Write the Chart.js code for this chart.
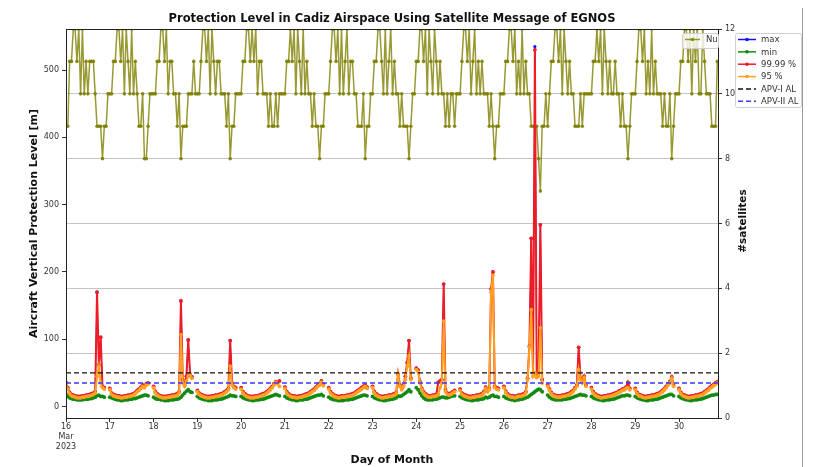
<!DOCTYPE html>
<html>
<head>
<meta charset="utf-8">
<script src="https://cdn.jsdelivr.net/npm/chart.js@4.4.1/dist/chart.umd.min.js"></script>
<style>
  html, body { margin: 0; padding: 0; background: #fff; }
  #wrap { width: 827px; height: 467px; }
</style>
</head>
<body>
<div id="wrap"><canvas id="chartCanvas" width="827" height="467"></canvas></div>
<script>
// Days of March 2023 on the x axis, one row of hourly values per day
var days = [16, 17, 18, 19, 20, 21, 22, 23, 24, 25, 26, 27, 28, 29, 30];
var hours = [0, 1, 2, 3, 4, 5, 6, 7, 8, 9, 10, 11, 12, 13, 14, 15, 16, 17, 18, 19, 20, 21, 22, 23];
var dayTickLabels = [['16', 'Mar', '2023'], '17', '18', '19', '20', '21', '22', '23', '24', '25', '26', '27', '28', '29', '30'];
var plTicks = [0, 100, 200, 300, 400, 500];
var satTicks = [0, 2, 4, 6, 8, 10, 12];
var xEnd = 30.89;

// alert limits [m]
var apv1AL = 50;
var apv2AL = 35;

// number of satellites in view
var satellites = [
    [9, 9, 11, 11, 12, 12, 11, 12, 10, 12, 10, 11, 10, 11, 11, 11, 10, 9, 9, 9, 8, 9, 9, 10],
    [10, 10, 11, 11, 12, 12, 11, 12, 10, 12, 11, 10, 12, 10, 11, 10, 9, 9, 10, 8, 8, 9, 10, 10],
    [10, 10, 11, 11, 12, 12, 11, 12, 10, 11, 11, 10, 10, 9, 10, 8, 9, 9, 9, 10, 10, 10, 11, 10],
    [10, 10, 11, 12, 12, 11, 12, 10, 12, 11, 10, 11, 11, 10, 10, 10, 9, 10, 8, 9, 9, 10, 10, 10],
    [10, 11, 11, 12, 12, 11, 12, 11, 12, 10, 11, 11, 10, 10, 10, 9, 10, 9, 9, 10, 9, 10, 10, 10],
    [10, 11, 11, 12, 11, 12, 10, 12, 11, 10, 12, 10, 11, 10, 10, 9, 10, 9, 9, 8, 9, 9, 10, 10],
    [10, 11, 12, 12, 11, 12, 10, 12, 10, 11, 12, 10, 11, 11, 10, 10, 9, 9, 9, 10, 8, 9, 9, 10],
    [10, 11, 11, 12, 12, 11, 10, 12, 10, 11, 12, 10, 11, 10, 10, 9, 10, 9, 9, 9, 8, 9, 10, 10],
    [11, 11, 12, 12, 11, 12, 10, 12, 11, 10, 12, 11, 10, 11, 10, 10, 9, 10, 9, 10, 10, 9, 10, 10],
    [10, 11, 12, 12, 11, 12, 10, 11, 12, 10, 11, 10, 11, 10, 10, 10, 9, 10, 9, 8, 9, 9, 10, 10],
    [10, 11, 11, 12, 12, 11, 12, 10, 11, 10, 12, 10, 11, 10, 10, 9, 9, 9, 9, 8, 7, 9, 9, 10],
    [9, 10, 11, 11, 12, 12, 11, 12, 10, 12, 11, 10, 11, 10, 10, 9, 9, 9, 10, 9, 10, 10, 10, 10],
    [10, 11, 11, 12, 11, 12, 10, 12, 11, 10, 11, 10, 10, 11, 10, 10, 9, 10, 9, 9, 8, 9, 10, 10],
    [10, 11, 12, 12, 11, 12, 10, 11, 10, 12, 10, 11, 10, 10, 10, 9, 10, 9, 9, 10, 8, 9, 10, 10],
    [10, 11, 11, 12, 12, 11, 12, 10, 12, 11, 12, 10, 10, 12, 11, 10, 10, 10, 9, 9, 9, 11]
];

// protection levels [m], hours 0..21 of each day (no data late evening)
var pl95 = [
    [33, 26, 19, 16, 15, 14, 13, 13, 13, 14, 14, 15, 15, 16, 17, 18, 20, 45, 60, 35, 28, 26],
    [25, 18, 16, 15, 14, 14, 13, 13, 14, 14, 15, 15, 16, 17, 19, 22, 24, 27, 30, 28, 32, 33],
    [28, 20, 17, 15, 14, 13, 13, 13, 14, 14, 15, 15, 16, 17, 20, 107, 35, 30, 38, 45, 47, 42],
    [22, 18, 16, 15, 14, 13, 13, 13, 14, 14, 15, 15, 16, 17, 18, 20, 22, 25, 60, 32, 28, 26],
    [26, 20, 17, 15, 14, 13, 13, 13, 14, 14, 15, 16, 17, 18, 20, 22, 25, 28, 32, 36, 34, 30],
    [27, 20, 17, 15, 14, 14, 13, 13, 14, 14, 15, 16, 17, 18, 20, 22, 24, 27, 30, 32, 36, 31],
    [26, 20, 17, 15, 14, 13, 13, 14, 14, 14, 15, 15, 16, 17, 18, 20, 22, 24, 26, 28, 30, 27],
    [28, 20, 17, 15, 14, 13, 13, 14, 14, 15, 15, 16, 17, 19, 47, 30, 25, 30, 40, 60, 75, 40],
    [55, 52, 35, 25, 20, 17, 15, 14, 14, 15, 15, 16, 18, 28, 35, 127, 22, 18, 17, 18, 20, 22],
    [24, 18, 16, 15, 14, 13, 13, 14, 14, 15, 15, 16, 17, 20, 27, 22, 25, 170, 195, 28, 26, 25],
    [28, 21, 17, 15, 14, 14, 13, 14, 15, 15, 16, 17, 20, 40, 88, 144, 45, 50, 43, 45, 117, 35],
    [30, 24, 19, 16, 15, 14, 14, 14, 15, 15, 16, 17, 18, 20, 22, 26, 30, 55, 40, 35, 43, 30],
    [26, 20, 17, 15, 14, 13, 13, 14, 14, 15, 15, 16, 17, 18, 19, 21, 22, 24, 25, 27, 28, 25],
    [25, 19, 16, 15, 14, 13, 13, 14, 14, 15, 15, 16, 17, 18, 20, 22, 25, 28, 32, 35, 42, 30],
    [25, 19, 16, 15, 14, 13, 13, 14, 14, 15, 15, 16, 17, 18, 20, 22, 24, 27, 29, 31, 33, 35]
];

var pl9999 = [
    [36, 28, 21, 18, 17, 16, 15, 15, 15, 16, 16, 17, 17, 18, 19, 20, 22, 170, 62, 103, 30, 28],
    [27, 20, 18, 17, 16, 16, 15, 15, 16, 16, 17, 17, 18, 19, 21, 24, 26, 29, 32, 30, 34, 35],
    [30, 22, 19, 17, 16, 15, 15, 15, 16, 16, 17, 17, 18, 19, 22, 157, 40, 32, 45, 99, 48, 44],
    [24, 20, 18, 17, 16, 15, 15, 15, 16, 16, 17, 17, 18, 19, 20, 22, 24, 27, 98, 35, 30, 28],
    [28, 22, 19, 17, 16, 15, 15, 15, 16, 16, 17, 18, 19, 20, 22, 24, 27, 30, 34, 37, 36, 38],
    [29, 22, 19, 17, 16, 16, 15, 15, 16, 16, 17, 18, 19, 20, 22, 24, 26, 29, 32, 34, 38, 33],
    [28, 22, 19, 17, 16, 15, 15, 16, 16, 16, 17, 17, 18, 19, 20, 22, 24, 26, 28, 30, 32, 29],
    [30, 22, 19, 17, 16, 15, 15, 16, 16, 17, 17, 18, 19, 21, 48, 32, 27, 32, 45, 65, 98, 42],
    [57, 54, 37, 27, 22, 19, 17, 16, 16, 17, 17, 18, 36, 38, 40, 182, 25, 20, 19, 20, 22, 24],
    [26, 20, 18, 17, 16, 15, 15, 16, 16, 17, 17, 18, 19, 22, 29, 24, 27, 175, 200, 30, 28, 27],
    [30, 23, 19, 17, 16, 16, 15, 16, 17, 17, 18, 19, 22, 42, 90, 250, 50, 530, 48, 50, 270, 40],
    [32, 26, 21, 18, 17, 16, 16, 16, 17, 17, 18, 19, 20, 22, 24, 28, 32, 88, 42, 37, 45, 32],
    [28, 22, 19, 17, 16, 15, 15, 16, 16, 17, 17, 18, 19, 20, 21, 23, 24, 26, 27, 29, 36, 27],
    [27, 21, 18, 17, 16, 15, 15, 16, 16, 17, 17, 18, 19, 20, 22, 24, 27, 30, 34, 37, 44, 32],
    [27, 21, 18, 17, 16, 15, 15, 16, 16, 17, 17, 18, 19, 20, 22, 24, 26, 29, 31, 33, 35, 37]
];

var plMax = [
    [36, 28, 21, 18, 17, 16, 15, 15, 15, 16, 16, 17, 17, 18, 19, 20, 22, 170, 62, 103, 30, 28],
    [27, 20, 18, 17, 16, 16, 15, 15, 16, 16, 17, 17, 18, 19, 21, 24, 26, 29, 32, 30, 34, 35],
    [30, 22, 19, 17, 16, 15, 15, 15, 16, 16, 17, 17, 18, 19, 22, 157, 40, 32, 45, 99, 48, 44],
    [24, 20, 18, 17, 16, 15, 15, 15, 16, 16, 17, 17, 18, 19, 20, 22, 24, 27, 98, 35, 30, 28],
    [28, 22, 19, 17, 16, 15, 15, 15, 16, 16, 17, 18, 19, 20, 22, 24, 27, 30, 34, 37, 36, 38],
    [29, 22, 19, 17, 16, 16, 15, 15, 16, 16, 17, 18, 19, 20, 22, 24, 26, 29, 32, 34, 38, 33],
    [28, 22, 19, 17, 16, 15, 15, 16, 16, 16, 17, 17, 18, 19, 20, 22, 24, 26, 28, 30, 32, 29],
    [30, 22, 19, 17, 16, 15, 15, 16, 16, 17, 17, 18, 19, 21, 48, 32, 27, 32, 45, 65, 98, 42],
    [57, 54, 37, 27, 22, 19, 17, 16, 16, 17, 17, 18, 36, 38, 40, 182, 25, 20, 19, 20, 22, 24],
    [26, 20, 18, 17, 16, 15, 15, 16, 16, 17, 17, 18, 19, 22, 29, 24, 27, 175, 200, 30, 28, 27],
    [30, 23, 19, 17, 16, 16, 15, 16, 17, 17, 18, 19, 22, 42, 90, 250, 50, 535, 48, 50, 270, 40],
    [32, 26, 21, 18, 17, 16, 16, 16, 17, 17, 18, 19, 20, 22, 24, 28, 32, 88, 42, 37, 45, 32],
    [28, 22, 19, 17, 16, 15, 15, 16, 16, 17, 17, 18, 19, 20, 21, 23, 24, 26, 27, 29, 36, 27],
    [27, 21, 18, 17, 16, 15, 15, 16, 16, 17, 17, 18, 19, 20, 22, 24, 27, 30, 34, 37, 44, 32],
    [27, 21, 18, 17, 16, 15, 15, 16, 16, 17, 17, 18, 19, 20, 22, 24, 26, 29, 31, 33, 35, 37]
];

var plMin = [
    [18, 15, 13, 12, 11, 11, 10, 10, 10, 10, 11, 11, 11, 12, 12, 13, 14, 16, 17, 15, 15, 14],
    [14, 13, 12, 11, 10, 10, 9, 9, 10, 10, 10, 11, 11, 12, 12, 13, 14, 15, 16, 17, 17, 16],
    [14, 12, 11, 11, 10, 10, 9, 9, 9, 10, 10, 10, 11, 11, 12, 14, 17, 20, 23, 25, 22, 21],
    [15, 13, 12, 11, 10, 10, 9, 9, 9, 10, 10, 10, 11, 11, 12, 13, 14, 15, 17, 16, 16, 15],
    [15, 13, 12, 11, 10, 10, 9, 9, 10, 10, 10, 11, 11, 12, 13, 14, 15, 16, 17, 18, 17, 16],
    [15, 13, 12, 11, 10, 10, 9, 9, 10, 10, 10, 11, 11, 12, 13, 14, 15, 16, 17, 17, 18, 16],
    [14, 12, 11, 10, 10, 9, 9, 9, 9, 10, 10, 10, 11, 11, 12, 13, 14, 15, 16, 17, 17, 16],
    [15, 13, 12, 11, 10, 10, 9, 9, 10, 10, 11, 11, 12, 13, 16, 15, 16, 18, 20, 22, 25, 22],
    [28, 25, 20, 16, 13, 11, 10, 10, 10, 10, 11, 11, 12, 13, 14, 14, 13, 13, 14, 15, 16, 16],
    [15, 13, 12, 11, 10, 10, 9, 9, 10, 10, 10, 11, 11, 12, 14, 13, 14, 16, 17, 15, 15, 14],
    [15, 13, 12, 11, 10, 10, 9, 10, 10, 11, 11, 12, 13, 14, 16, 18, 20, 22, 24, 26, 25, 22],
    [17, 14, 12, 11, 10, 10, 10, 10, 10, 11, 11, 12, 12, 13, 14, 15, 16, 17, 18, 17, 17, 16],
    [15, 13, 12, 11, 10, 10, 9, 9, 10, 10, 10, 11, 11, 12, 13, 14, 15, 16, 16, 17, 17, 16],
    [15, 13, 12, 11, 10, 10, 9, 9, 10, 10, 10, 11, 11, 12, 13, 14, 15, 16, 17, 18, 18, 16],
    [15, 13, 12, 11, 10, 10, 9, 9, 10, 10, 10, 11, 11, 12, 13, 14, 15, 16, 17, 17, 18, 18]
];

var FONT = '"DejaVu Sans", sans-serif';
var chartTitle = 'Protection Level in Cadiz Airspace Using Satellite Message of EGNOS';

// turn day rows into {x, y} points; gap after each day when asked
function toPoints(rows, withGap) {
    var pts = [];
    rows.forEach(function (row, d) {
        row.forEach(function (v, h) {
            pts.push({x: days[d] + hours[h] / 24, y: v});
        });
        if (withGap) {
            pts.push({x: days[d] + hours[row.length] / 24, y: null});
        }
    });
    return pts;
}

function plDataset(label, rows, color, order, width, radius) {
    return {
        label: label,
        data: toPoints(rows, true),
        yAxisID: 'y',
        borderColor: color,
        backgroundColor: color,
        borderWidth: width,
        pointRadius: radius,
        pointBorderWidth: 0,
        spanGaps: false,
        order: order
    };
}

function alDataset(label, value, color) {
    return {
        label: label,
        data: [{x: days[0], y: value}, {x: xEnd, y: value}],
        yAxisID: 'y',
        borderColor: color,
        borderWidth: 1.3,
        borderDash: [5, 3],
        pointRadius: 0,
        order: 0
    };
}

// title, frame, right axis title, figure edge and both legends
var decorPlugin = {
    id: 'decor',
    afterDraw: function (chart) {
        var ctx = chart.ctx;
        var a = chart.chartArea;
        ctx.save();
        ctx.strokeStyle = '#222';
        ctx.lineWidth = 1;
        ctx.strokeRect(Math.round(a.left) + 0.5, Math.round(a.top) + 0.5, Math.round(a.right - a.left), Math.round(a.bottom - a.top));

        // figure edge on the right
        ctx.strokeStyle = '#9a9a9a';
        ctx.beginPath();
        ctx.moveTo(802.5, 8);
        ctx.lineTo(802.5, 467);
        ctx.stroke();

        ctx.fillStyle = '#111';
        ctx.textAlign = 'center';
        ctx.textBaseline = 'middle';
        ctx.font = 'bold 11.5px ' + FONT;
        ctx.fillText(chartTitle, (a.left + a.right) / 2, 19);

        // right axis title
        ctx.font = 'bold 10.5px ' + FONT;
        ctx.translate(743, 221);
        ctx.rotate(-Math.PI / 2);
        ctx.fillText('#satellites', 0, 0);
        ctx.restore();

        var sets = chart.data.datasets;
        drawLegend(ctx, 682, 33, 36, 15, sets.filter(function (s) { return s.label === 'Nu'; }), 685, 700, 706, 12);
        drawLegend(ctx, 735, 33, 66, 74, sets.filter(function (s) { return s.label !== 'Nu'; }), 738, 756, 761, 12.35);
    }
};

function drawLegend(ctx, bx, by, bw, bh, sets, x1, x2, tx, step) {
    ctx.save();
    ctx.fillStyle = 'rgba(255,255,255,0.8)';
    ctx.strokeStyle = '#d0d0d0';
    ctx.lineWidth = 1;
    ctx.beginPath();
    ctx.roundRect(bx + 0.5, by + 0.5, bw, bh, 2);
    ctx.fill();
    ctx.stroke();
    ctx.font = '8.5px ' + FONT;
    ctx.textBaseline = 'middle';
    ctx.textAlign = 'left';
    sets.forEach(function (s, i) {
        var y = by + 6.5 + i * step;
        ctx.strokeStyle = s.borderColor;
        ctx.lineWidth = 1.5;
        ctx.setLineDash(s.borderDash || []);
        ctx.beginPath();
        ctx.moveTo(x1, y);
        ctx.lineTo(x2, y);
        ctx.stroke();
        ctx.setLineDash([]);
        if (s.pointRadius > 0) {
            ctx.fillStyle = s.borderColor;
            ctx.beginPath();
            ctx.arc((x1 + x2) / 2, y, 1.8, 0, Math.PI * 2);
            ctx.fill();
        }
        ctx.fillStyle = '#333';
        ctx.fillText(s.label, tx, y + 0.5);
    });
    ctx.restore();
}

var ctx = document.getElementById('chartCanvas');

var chart = new Chart(ctx, {
    type: 'line',
    data: {
        datasets: [
            plDataset('max', plMax, '#1010ff', 4, 1, 1.6),
            plDataset('min', plMin, '#138a13', 3, 2, 1.9),
            plDataset('99.99 %', pl9999, '#ee1c25', 2, 2, 1.9),
            plDataset('95 %', pl95, '#ffa020', 1, 2, 1.9),
            alDataset('APV-I AL', apv1AL, '#111111'),
            alDataset('APV-II AL', apv2AL, '#3a3aff'),
            {
                label: 'Nu',
                data: toPoints(satellites, false),
                yAxisID: 'y1',
                borderColor: 'rgba(128,128,0,0.8)',
                backgroundColor: 'rgba(128,128,0,0.9)',
                borderWidth: 1.5,
                pointRadius: 1.8,
                pointBorderWidth: 0,
                order: 10
            }
        ]
    },
    options: {
        responsive: false,
        animation: false,
        layout: {padding: {top: 29, left: 0, right: 0, bottom: 0}},
        plugins: {
            legend: {display: false},
            tooltip: {enabled: false},
            title: {display: false}
        },
        scales: {
            x: {
                type: 'linear',
                min: days[0],
                max: xEnd,
                afterFit: function (s) { s.height = 49; },
                afterBuildTicks: function (s) {
                    s.ticks = days.map(function (d) { return {value: d}; });
                },
                ticks: {
                    autoSkip: false,
                    maxRotation: 0,
                    padding: 0,
                    color: '#333',
                    font: {family: FONT, size: 8, lineHeight: 1.25},
                    callback: function (value) { return dayTickLabels[days.indexOf(value)]; }
                },
                grid: {drawOnChartArea: false, drawTicks: true, tickLength: 4, tickColor: '#333'},
                border: {display: true, color: '#222'},
                title: {
                    display: true,
                    text: 'Day of Month',
                    color: '#111',
                    font: {family: FONT, size: 11, weight: 'bold', lineHeight: 1.2},
                    padding: {top: 0, bottom: 0}
                }
            },
            y: {
                position: 'left',
                min: -17,
                max: 561,
                afterFit: function (s) { s.width = 66; },
                afterBuildTicks: function (s) {
                    s.ticks = plTicks.map(function (v) { return {value: v}; });
                },
                ticks: {padding: 3, color: '#333', font: {family: FONT, size: 8}},
                grid: {drawOnChartArea: false, drawTicks: true, tickLength: 4, tickColor: '#333'},
                border: {display: true, color: '#222'},
                title: {
                    display: true,
                    text: 'Aircraft Vertical Protection Level [m]',
                    color: '#111',
                    font: {family: FONT, size: 11, weight: 'bold', lineHeight: 1.2},
                    padding: {top: 28, bottom: 0}
                }
            },
            y1: {
                position: 'right',
                min: 0,
                max: 12,
                afterFit: function (s) { s.width = 109; },
                afterBuildTicks: function (s) {
                    s.ticks = satTicks.map(function (v) { return {value: v}; });
                },
                ticks: {padding: 3, color: '#333', font: {family: FONT, size: 8}},
                grid: {drawOnChartArea: true, color: '#c4c4c4', lineWidth: 1, drawTicks: true, tickLength: 4, tickColor: '#333'},
                border: {display: true, color: '#222'}
            }
        }
    },
    plugins: [decorPlugin]
});
</script>
</body>
</html>
